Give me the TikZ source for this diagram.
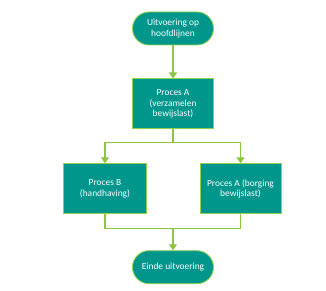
\documentclass[tikz,border=0pt]{standalone}
\usepackage{fontspec}
\setmainfont{Carlito}
\usetikzlibrary{positioning,arrows.meta,calc}
\definecolor{procteal}{RGB}{0,150,140}
\definecolor{linegreen}{RGB}{140,198,63}
\definecolor{edgegreen}{RGB}{146,208,80}

\begin{document}
\begin{tikzpicture}[x=1pt,y=1pt,>={Triangle[length=6pt,width=8pt]},
  box/.style={draw=edgegreen,line width=0.9pt,fill=procteal,text=white,
    font=\fontsize{9.4}{10.8}\selectfont,align=center,minimum width=81pt,minimum height=50pt,inner sep=2pt},
  pill/.style={box,minimum height=33pt,rounded corners=16.5pt},
  flow/.style={draw=linegreen,line width=1.2pt}]
\useasboundingbox (0,0) rectangle (326,-291);
\node[pill] (start) at (173,-28.5) {Uitvoering op\\hoofdlijnen};
\node[box] (procA) [below=33pt of start] {Proces A\\(verzamelen\\bewijslast)};
\node[box,minimum width=83pt] (procB) [below=34pt of procA,xshift=-68pt] {Proces B\\(handhaving)};
\node[box] (procC) [below=34pt of procA,xshift=67.5pt] {Proces A (borging\\bewijslast)};
\coordinate (join) at ($(procA.south |- procB.south)+(0,-14pt)$);
\node[pill] (finish) [below=22pt of join] {Einde uitvoering};
\draw[flow,->] (start) -- (procA);
\draw[flow,->] (procA.south) -- ++(0,-13pt) -| (procB);
\draw[flow,->] (procA.south) -- ++(0,-13pt) -| (procC);
\draw[flow] (procB.south) |- (join);
\draw[flow] (procC.south) |- (join);
\draw[flow,->] (join) -- (finish);
\end{tikzpicture}
\end{document}
